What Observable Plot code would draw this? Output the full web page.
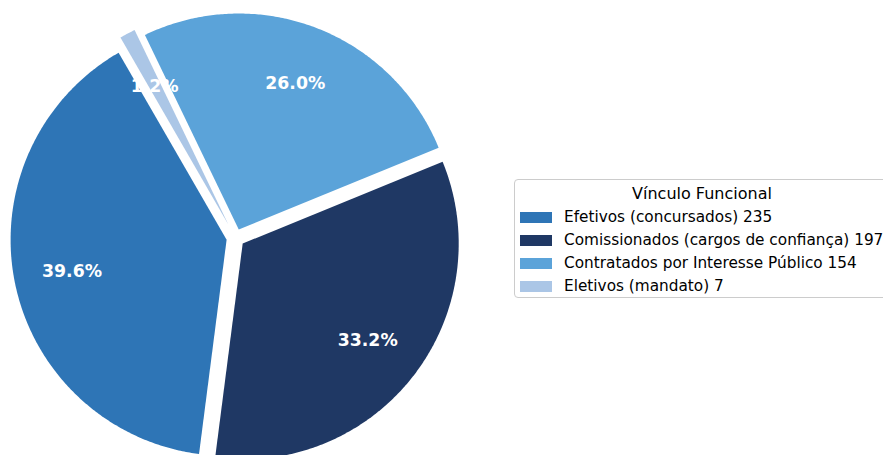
<!DOCTYPE html>
<html>
<head>
<meta charset="utf-8">
<script src="https://cdn.jsdelivr.net/npm/d3@7"></script>
<script src="https://cdn.jsdelivr.net/npm/@observablehq/plot@0.6"></script>
<style>
  html, body { margin: 0; padding: 0; background: white; }
  #wrap { position: relative; width: 883px; height: 455px; overflow: hidden; font-family: "DejaVu Sans", sans-serif; }
  #legend { position: absolute; left: 514px; top: 179px; width: 376px; height: 119px; box-sizing: border-box;
            border: 1px solid #cccccc; border-radius: 4px; background: white; }
  #legend .title { position: absolute; left: 0; right: 0; top: 4px; text-align: center; font-size: 16px; color: #000; }
  #legend .row { position: absolute; left: 5px; height: 20px; display: flex; align-items: center; white-space: nowrap; font-size: 15.3px; color: #000; }
  #legend .sw { width: 32px; height: 11px; margin-right: 12px; flex: none; }
</style>
</head>
<body>
<div id="wrap"><div id="chart"></div><div id="legend"></div></div>
<script>
const categories = ["Efetivos (concursados)", "Comissionados (cargos de confiança)", "Contratados por Interesse Público", "Eletivos (mandato)"];
const values = [235, 197, 154, 7];
const colors = ["#2e75b6", "#1f3864", "#5ba3d9", "#abc6e6"];
const explode = [0.042, 0.042, 0.042, 0.07];
const legendTitle = "Vínculo Funcional";

const W = 883, H = 455;
const R = 216, cx = 235, cy = 237.5;
const startAngle = 120;
const pctDistance = 0.73;
const total = d3.sum(values);

const polys = [];
const labelRows = [];
let a0 = startAngle;
values.forEach((v, i) => {
  const sweep = v / total * 360;
  const a1 = a0 + sweep;
  const mid = (a0 + a1) / 2 * Math.PI / 180;
  const ox = explode[i] * Math.cos(mid), oy = explode[i] * Math.sin(mid);
  polys.push({slice: i, x: ox, y: oy});
  const n = Math.max(4, Math.ceil(sweep * 2));
  for (let k = 0; k <= n; k++) {
    const t = (a0 + sweep * k / n) * Math.PI / 180;
    polys.push({slice: i, x: ox + Math.cos(t), y: oy + Math.sin(t)});
  }
  labelRows.push({slice: i, x: ox + pctDistance * Math.cos(mid), y: oy + pctDistance * Math.sin(mid),
                  text: (v / total * 100).toFixed(1) + "%"});
  a0 = a1;
});

const chart = Plot.plot({
  width: W, height: H,
  margin: 0,
  style: {background: "white"},
  x: {domain: [-cx / R, (W - cx) / R], range: [0, W], axis: null},
  y: {domain: [-(H - cy) / R, cy / R], range: [H, 0], axis: null},
  marks: [
    Plot.line(polys, {x: "x", y: "y", z: "slice", fill: d => colors[d.slice], stroke: "none", curve: "linear-closed"}),
    Plot.text(labelRows, {x: "x", y: "y", text: "text", fill: "white", fontWeight: "bold", fontSize: 17.3, fontFamily: "DejaVu Sans", dy: 1})
  ]
});
document.getElementById("chart").appendChild(chart);

const legend = document.getElementById("legend");
const t = document.createElement("div");
t.className = "title"; t.textContent = legendTitle;
legend.appendChild(t);
categories.forEach((c, i) => {
  const row = document.createElement("div");
  row.className = "row";
  row.style.top = (27 + i * 23) + "px";
  const sw = document.createElement("div");
  sw.className = "sw"; sw.style.background = colors[i];
  const tx = document.createElement("span");
  tx.textContent = c + " " + values[i];
  row.appendChild(sw); row.appendChild(tx);
  legend.appendChild(row);
});
</script>
</body>
</html>
